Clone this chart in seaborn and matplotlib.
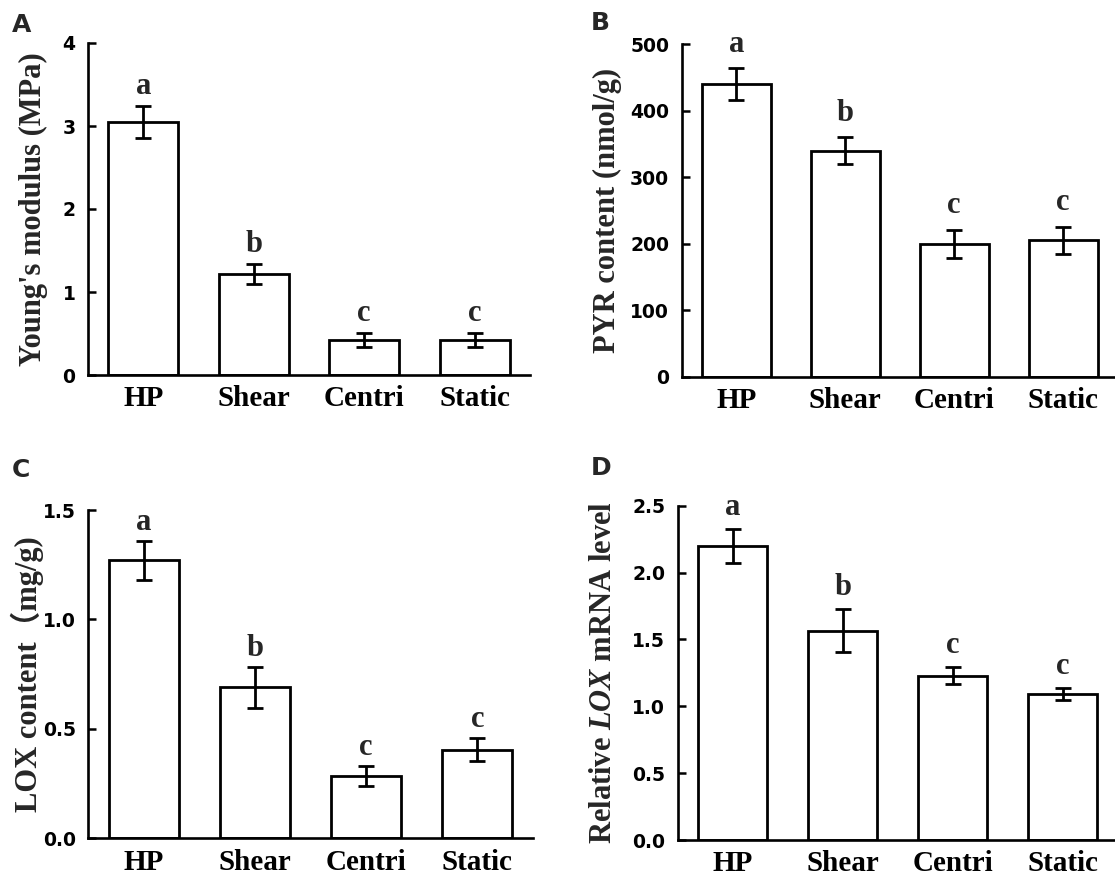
import matplotlib
matplotlib.use("Agg")
import matplotlib.pyplot as plt
import seaborn as sns
import pandas as pd

# ---------------- data ----------------
categories = ["HP", "Shear", "Centri", "Static"]

young_mean = [3.05, 1.22, 0.42, 0.42]
young_err = [0.19, 0.12, 0.085, 0.085]
young_sig = ["a", "b", "c", "c"]
young_ticks = [0, 1, 2, 3, 4]
young_ticklabels = ["0", "1", "2", "3", "4"]

pyr_mean = [440, 340, 200, 205]
pyr_err = [24, 20, 21, 20]
pyr_sig = ["a", "b", "c", "c"]
pyr_ticks = [0, 100, 200, 300, 400, 500]
pyr_ticklabels = ["0", "100", "200", "300", "400", "500"]

lox_mean = [1.27, 0.69, 0.285, 0.405]
lox_err = [0.09, 0.093, 0.045, 0.053]
lox_sig = ["a", "b", "c", "c"]
lox_ticks = [0.0, 0.5, 1.0, 1.5]
lox_ticklabels = ["0.0", "0.5", "1.0", "1.5"]

mrna_mean = [2.20, 1.565, 1.23, 1.09]
mrna_err = [0.125, 0.16, 0.065, 0.045]
mrna_sig = ["a", "b", "c", "c"]
mrna_ticks = [0.0, 0.5, 1.0, 1.5, 2.0, 2.5]
mrna_ticklabels = ["0.0", "0.5", "1.0", "1.5", "2.0", "2.5"]

ylabels = ["Young's modulus (MPa)", "PYR content (nmol/g)",
           "LOX content\uff08mg/g)", "Relative $LOX$ mRNA level"]
panel_letters = ["A", "B", "C", "D"]

# ---------------- style ----------------
sns.set_theme(style="ticks")
plt.rcParams["font.family"] = ["Liberation Serif", "Noto Sans CJK SC", "DejaVu Sans"]
plt.rcParams["mathtext.fontset"] = "custom"
plt.rcParams["mathtext.it"] = "Liberation Serif:italic:bold"
plt.rcParams["mathtext.rm"] = "Liberation Serif:bold"

W, H = 1115, 880
fig = plt.figure(figsize=(W / 100, H / 100), dpi=100)
fig.patch.set_facecolor("white")


def frac(l, r, t, b):
    return [l / W, 1 - b / H, (r - l) / W, (b - t) / H]


panels = [
    dict(rect=frac(88, 530, 43, 375), xr=3.5, mean=young_mean, err=young_err,
         sig=young_sig, ticks=young_ticks, tl=young_ticklabels, ylim=(0, 4),
         off=8.6, labx=-0.124, letter=(12, 13)),
    dict(rect=frac(681.7, 1115, 44.3, 376.7), xr=3.475, mean=pyr_mean, err=pyr_err,
         sig=pyr_sig, ticks=pyr_ticks, tl=pyr_ticklabels, ylim=(0, 500),
         off=12.0, labx=-0.171, letter=(591, 11)),
    dict(rect=frac(88.3, 533, 510, 838.3), xr=3.5, mean=lox_mean, err=lox_err,
         sig=lox_sig, ticks=lox_ticks, tl=lox_ticklabels, ylim=(0, 1.5),
         off=8.0, labx=-0.138, letter=(12, 458)),
    dict(rect=frac(677.7, 1115, 505.7, 840), xr=3.475, mean=mrna_mean, err=mrna_err,
         sig=mrna_sig, ticks=mrna_ticks, tl=mrna_ticklabels, ylim=(0, 2.5),
         off=10.0, labx=-0.169, letter=(591, 456)),
]

for i, p in enumerate(panels):
    ax = fig.add_axes(p["rect"])
    df = pd.DataFrame({"cat": categories, "val": p["mean"]})
    sns.barplot(data=df, x="cat", y="val", ax=ax, color="white", saturation=1,
                edgecolor="black", linewidth=2.0, width=0.63, errorbar=None,
                zorder=2)
    xs = list(range(len(categories)))
    ax.errorbar(xs, p["mean"], yerr=p["err"], fmt="none", ecolor="black",
                elinewidth=2.0, capsize=6, capthick=2.0, zorder=3)
    for x, m, e, s in zip(xs, p["mean"], p["err"], p["sig"]):
        ax.annotate(s, xy=(x, m + e), xytext=(0, p["off"]), textcoords="offset points",
                    ha="center", va="baseline", fontsize=22, fontweight="bold",
                    family="Liberation Serif", annotation_clip=False)
    ax.set_xlim(-0.5, p["xr"])
    ax.set_ylim(*p["ylim"])
    ax.set_yticks(p["ticks"])
    ax.set_yticklabels(p["tl"], family="DejaVu Sans", fontweight="bold", fontsize=13.5)
    ax.set_xticks(xs)
    ax.set_xticklabels(categories, family="Liberation Serif", fontweight="bold",
                       fontsize=21)
    ax.tick_params(axis="y", direction="in", length=6, width=1.8, pad=9, colors="black")
    ax.tick_params(axis="x", length=0, pad=7.5, colors="black")
    ax.set_xlabel("")
    ax.set_ylabel(ylabels[i], fontsize=22, fontweight="bold",
                  family=["Liberation Serif", "Noto Sans CJK SC"], va="center")
    ax.yaxis.set_label_coords(p["labx"], 0.5)
    for side in ["top", "right"]:
        ax.spines[side].set_visible(False)
    for side in ["left", "bottom"]:
        ax.spines[side].set_linewidth(1.9)
        ax.spines[side].set_color("black")
    ax.set_facecolor("white")
    lx, ly = p["letter"]
    fig.text(lx / W, 1 - ly / H, panel_letters[i], ha="left", va="top",
             fontsize=18, fontweight="bold", family="DejaVu Sans")

fig.savefig("out.png", dpi=100, facecolor="white")
